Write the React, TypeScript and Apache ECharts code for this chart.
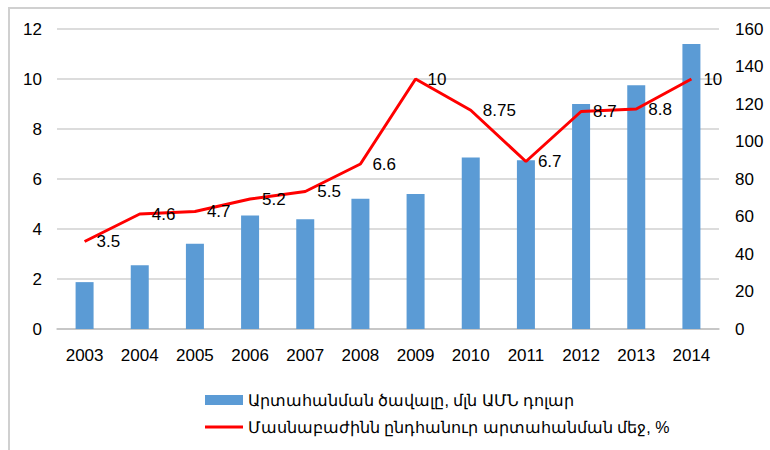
import React, { useEffect, useRef } from "react";
import * as echarts from "echarts";

const years = ["2003", "2004", "2005", "2006", "2007", "2008", "2009", "2010", "2011", "2012", "2013", "2014"];
const exportVolume = [25, 34, 45.5, 60.5, 58.5, 69.5, 72, 91.5, 90, 120, 130, 152];
const exportShare = [3.5, 4.6, 4.7, 5.2, 5.5, 6.6, 10, 8.75, 6.7, 8.7, 8.8, 10];
const barName = "Արտահանման ծավալը, մլն ԱՄՆ դոլար";
const lineName = "Մասնաբաժինն ընդհանուր արտահանման մեջ, %";

const FONT = "Liberation Sans, Arial, sans-serif";

export default function App() {
  const ref = useRef<HTMLDivElement>(null);
  useEffect(() => {
    if (!ref.current) return;
    const chart = echarts.init(ref.current, undefined, { renderer: "svg" });
    chart.setOption({
      animation: false,
      textStyle: { fontFamily: FONT },
      grid: { left: 57, right: 51, top: 29, bottom: 121, containLabel: false },
      legend: {
        orient: "vertical",
        left: 200,
        top: 387,
        itemWidth: 38,
        itemHeight: 10,
        itemGap: 11,
        textStyle: { fontFamily: FONT, fontSize: 16, color: "#000" },
        data: [
          { name: barName, icon: "rect" },
          { name: lineName, icon: "path://M0,0 L38,0 L38,3 L0,3 Z" },
        ],
      },
      xAxis: {
        type: "category",
        data: years,
        axisLine: { show: true, lineStyle: { color: "#c0c0c0", width: 1.5 } },
        axisTick: { show: false },
        axisLabel: { color: "#000", fontSize: 17, fontFamily: FONT, margin: 18 },
      },
      yAxis: [
        {
          type: "value",
          min: 0,
          max: 12,
          interval: 2,
          position: "left",
          axisLine: { show: false },
          axisTick: { show: false },
          axisLabel: { color: "#000", fontSize: 17, fontFamily: FONT, margin: 15 },
          splitLine: { show: true, lineStyle: { color: "#d0d0d0", width: 1.5 } },
        },
        {
          type: "value",
          min: 0,
          max: 160,
          interval: 20,
          position: "right",
          axisLine: { show: false },
          axisTick: { show: false },
          axisLabel: { color: "#000", fontSize: 17, fontFamily: FONT, margin: 16 },
          splitLine: { show: false },
        },
      ],
      series: [
        {
          name: barName,
          type: "bar",
          yAxisIndex: 1,
          data: exportVolume,
          barWidth: 18,
          itemStyle: { color: "#5b9bd5" },
        },
        {
          name: lineName,
          type: "line",
          yAxisIndex: 0,
          data: exportShare,
          symbol: "circle",
          symbolSize: 0,
          showSymbol: true,
          lineStyle: { color: "#ff0000", width: 3 },
          itemStyle: { color: "#ff0000" },
          label: {
            show: true,
            position: "right",
            distance: 12,
            color: "#000",
            fontSize: 17,
            fontFamily: FONT,
          },
        },
      ],
    });
    return () => chart.dispose();
  }, []);
  return (
    <div style={{ position: "fixed", left: 0, top: 0, width: 770, height: 450, background: "#fff" }}>
      <div
        style={{
          position: "absolute",
          left: 8,
          top: 7,
          width: 800,
          height: 500,
          borderLeft: "2px solid #d0d0d0",
          borderTop: "2px solid #d0d0d0",
          boxSizing: "border-box",
        }}
      />
      <div ref={ref} style={{ position: "absolute", left: 0, top: 0, width: 770, height: 450 }} />
    </div>
  );
}
